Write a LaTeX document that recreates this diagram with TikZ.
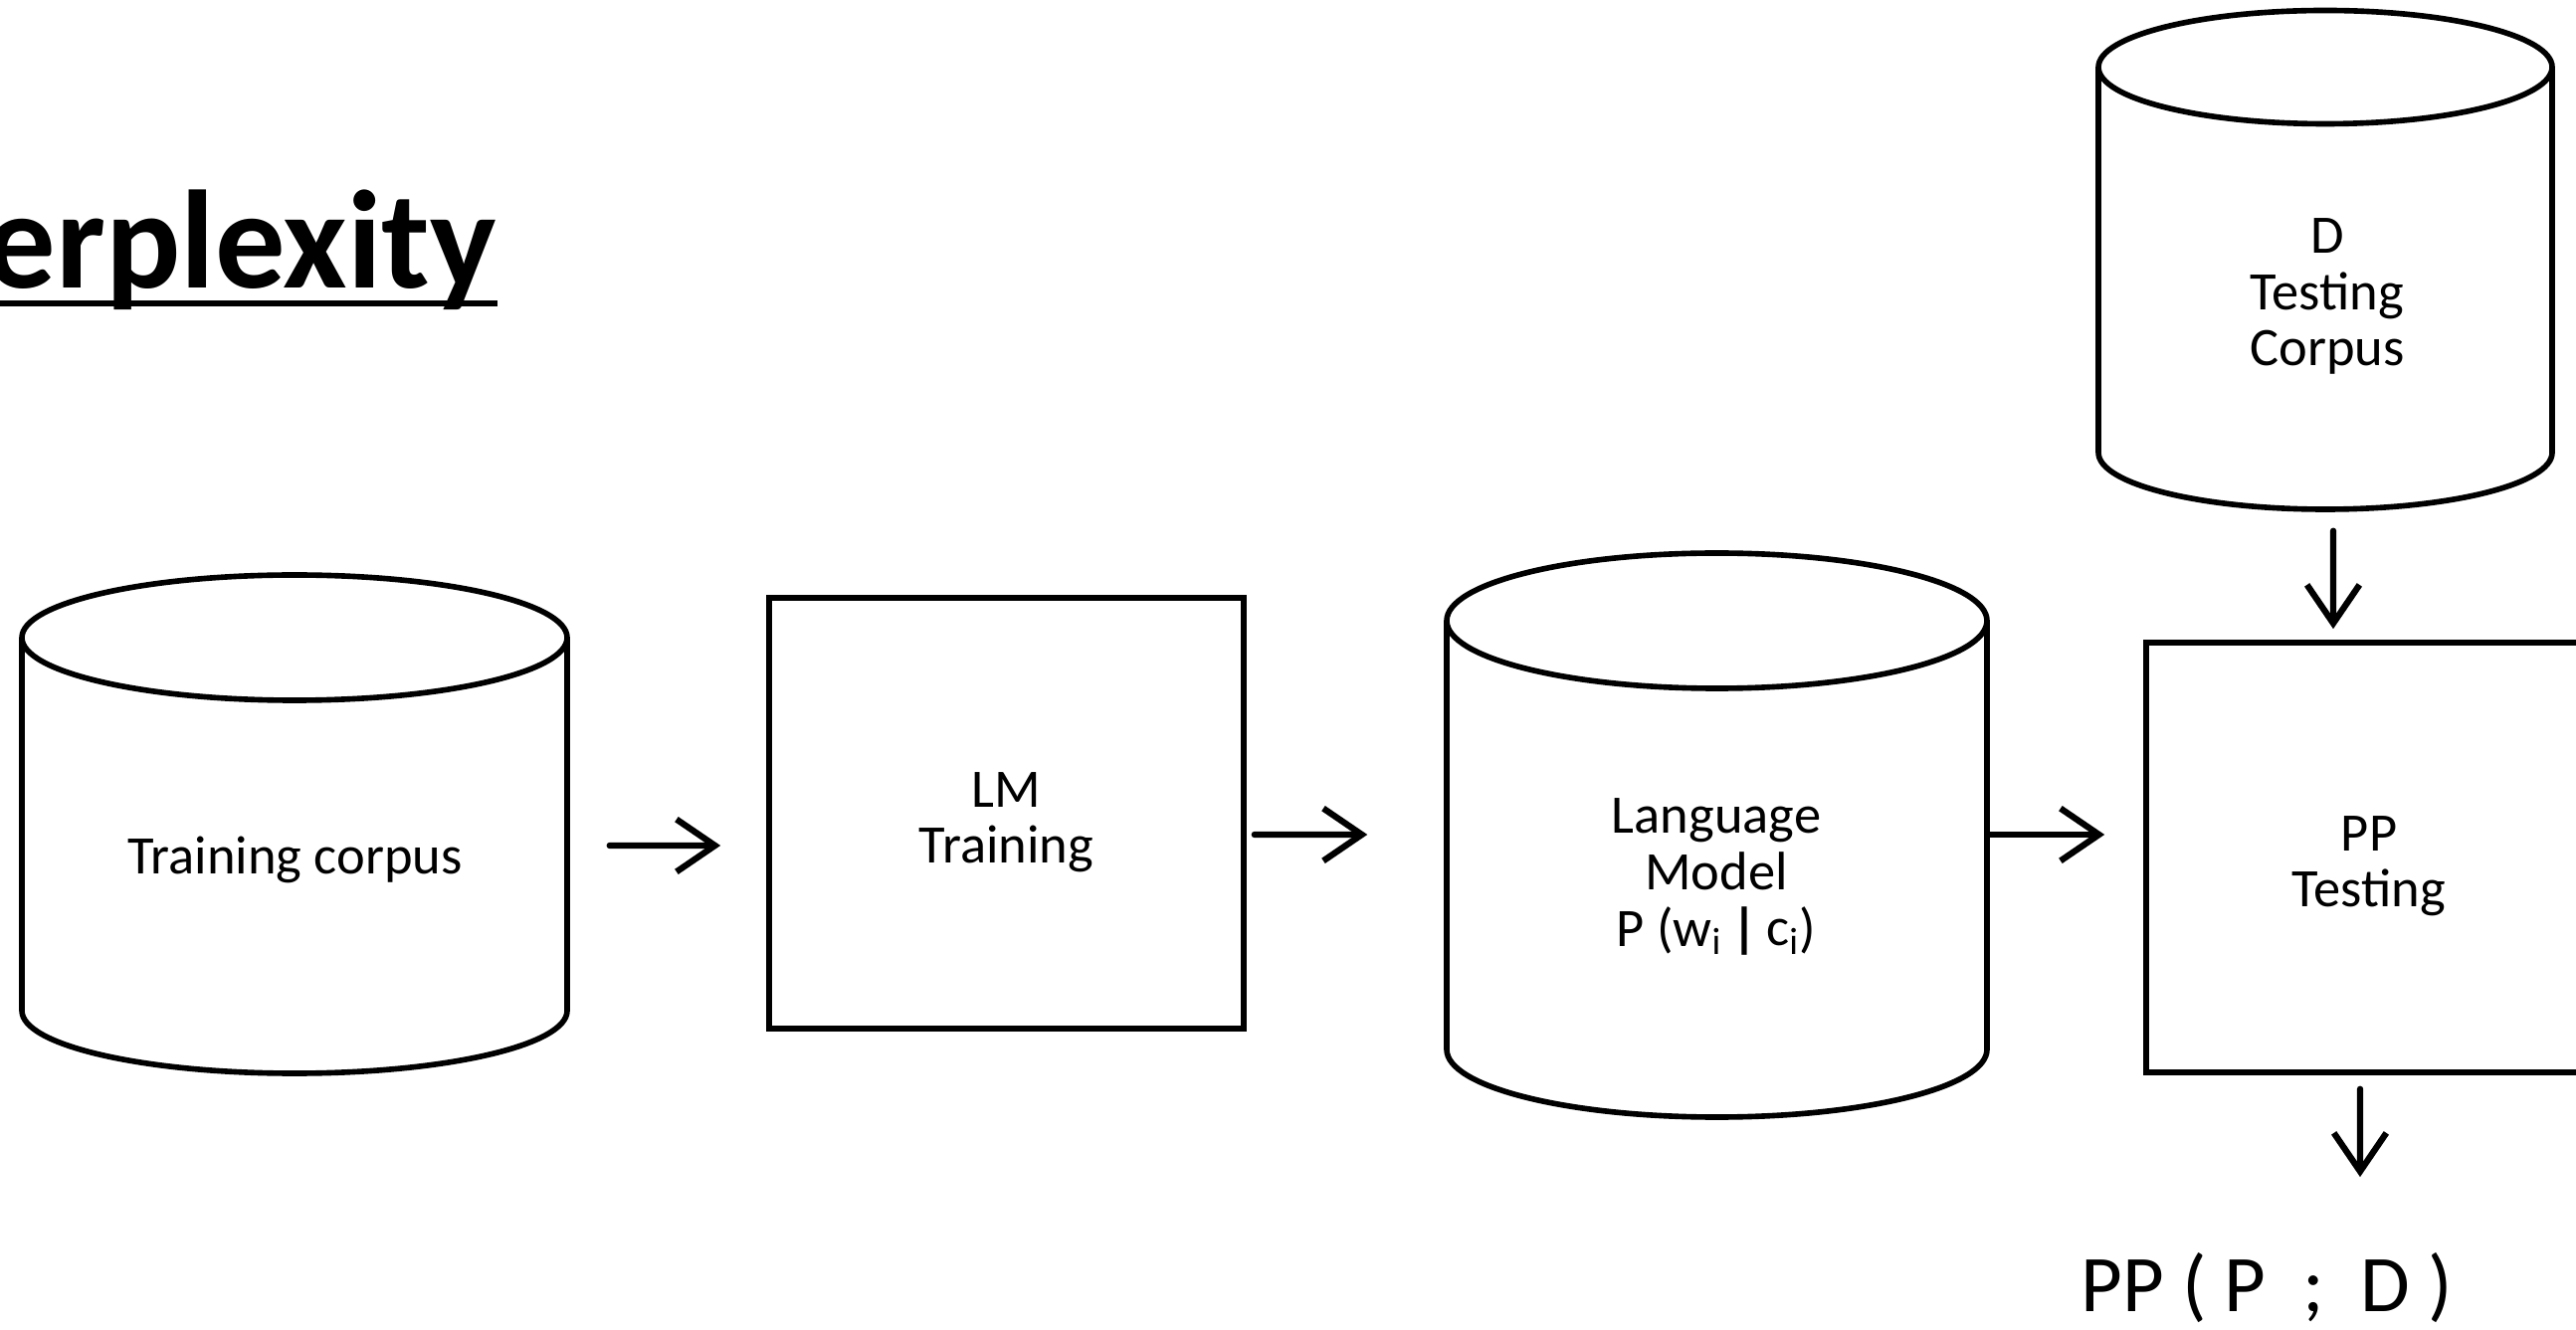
\documentclass[tikz,border=0pt]{standalone}
\usepackage{fontspec}
\setmainfont{Carlito}
\usetikzlibrary{arrows.meta,positioning}

\tikzset{
  box/.style={draw, line width=1.6pt, inner sep=0pt},
  frame/.style={inner sep=0pt},
  txt/.style={align=center, font=\fontsize{15.5pt}{16.2pt}\selectfont, inner sep=0pt},
  flow/.style={line width=1.8pt, line cap=round, -{Straight Barb[length=11pt,width=15pt]}},
}

\begin{document}
\begin{tikzpicture}
  \useasboundingbox (0,0) rectangle (25.89,13.36);

  % title, cut off at the left edge
  \node[font=\fontsize{40pt}{44pt}\selectfont\bfseries, anchor=base east, inner sep=0pt] (title) at (5.0,10.46) {erplexity};
  \draw[line width=1.6pt] ([yshift=-1.5mm]title.base west) -- ([yshift=-1.5mm]title.base east);

  % cylinders: cx/top/bottom/rx/ry
  \foreach \cx/\ty/\by/\rx/\ry in {2.96/6.95/3.20/2.74/0.63, 17.255/7.12/2.81/2.715/0.68, 23.37/12.685/8.81/2.28/0.57} {
    \draw[line width=1.6pt] (\cx-\rx,\ty) -- (\cx-\rx,\by) arc[start angle=180, end angle=360, x radius=\rx, y radius=\ry] -- (\cx+\rx,\ty);
    \draw[line width=1.6pt] (\cx,\ty) ellipse[x radius=\rx, y radius=\ry];
  }
  \node[frame, minimum width=5.48cm, minimum height=5.02cm] (train) at (2.96,5.08) {};
  \node[frame, minimum width=5.43cm, minimum height=5.67cm] (lm) at (17.255,4.965) {};
  \node[frame, minimum width=4.56cm, minimum height=5.015cm] (test) at (23.37,10.7475) {};

  % boxes
  \node[box, minimum width=4.77cm, minimum height=4.33cm] (lmtrain) at (10.115,5.185) {};
  \node[box, minimum width=4.48cm, minimum height=4.32cm] (pptest) at (23.81,4.74) {};

  % labels
  \node[txt, anchor=base] (traintxt) at (2.965,4.57) {Training corpus};
  \node[txt, anchor=base] (lmtraintxt) at (10.115,4.68) {LM\\Training};
  \node[txt, anchor=base] (lmtxt) at (17.25,3.85) {Language\\Model\\P (w\textsubscript{i}\,\textbf{|}\,c\textsubscript{i})};
  \node[txt, anchor=base] (testtxt) at (23.39,9.68) {D\\Testing\\Corpus};
  \node[txt, anchor=base] (pptesttxt) at (23.81,4.24) {PP\\Testing};
  \node[font=\fontsize{23pt}{26pt}\selectfont, anchor=base, inner sep=0pt] (ppd) at (22.78,0.18) {PP ( P~~;~~D )};

  % arrows
  \draw[flow] ([shift={(0.42,-0.22)}]train.east) -- ([shift={(-0.46,-0.325)}]lmtrain.west);
  \draw[flow] ([shift={(0.08,-0.215)}]lmtrain.east) -- ([shift={(-0.79,0.005)}]lm.west);
  \draw[flow] ([shift={(0.01,0.005)}]lm.east) -- ([shift={(-0.39,0.23)}]pptest.west);
  \draw[flow] ([shift={(0.08,-0.21)}]test.south) -- ([shift={(-0.36,0.11)}]pptest.north);
  \draw[flow] ([shift={(-0.09,-0.14)}]pptest.south) -- ([shift={(0.94,0.75)}]ppd.north);
\end{tikzpicture}
\end{document}
